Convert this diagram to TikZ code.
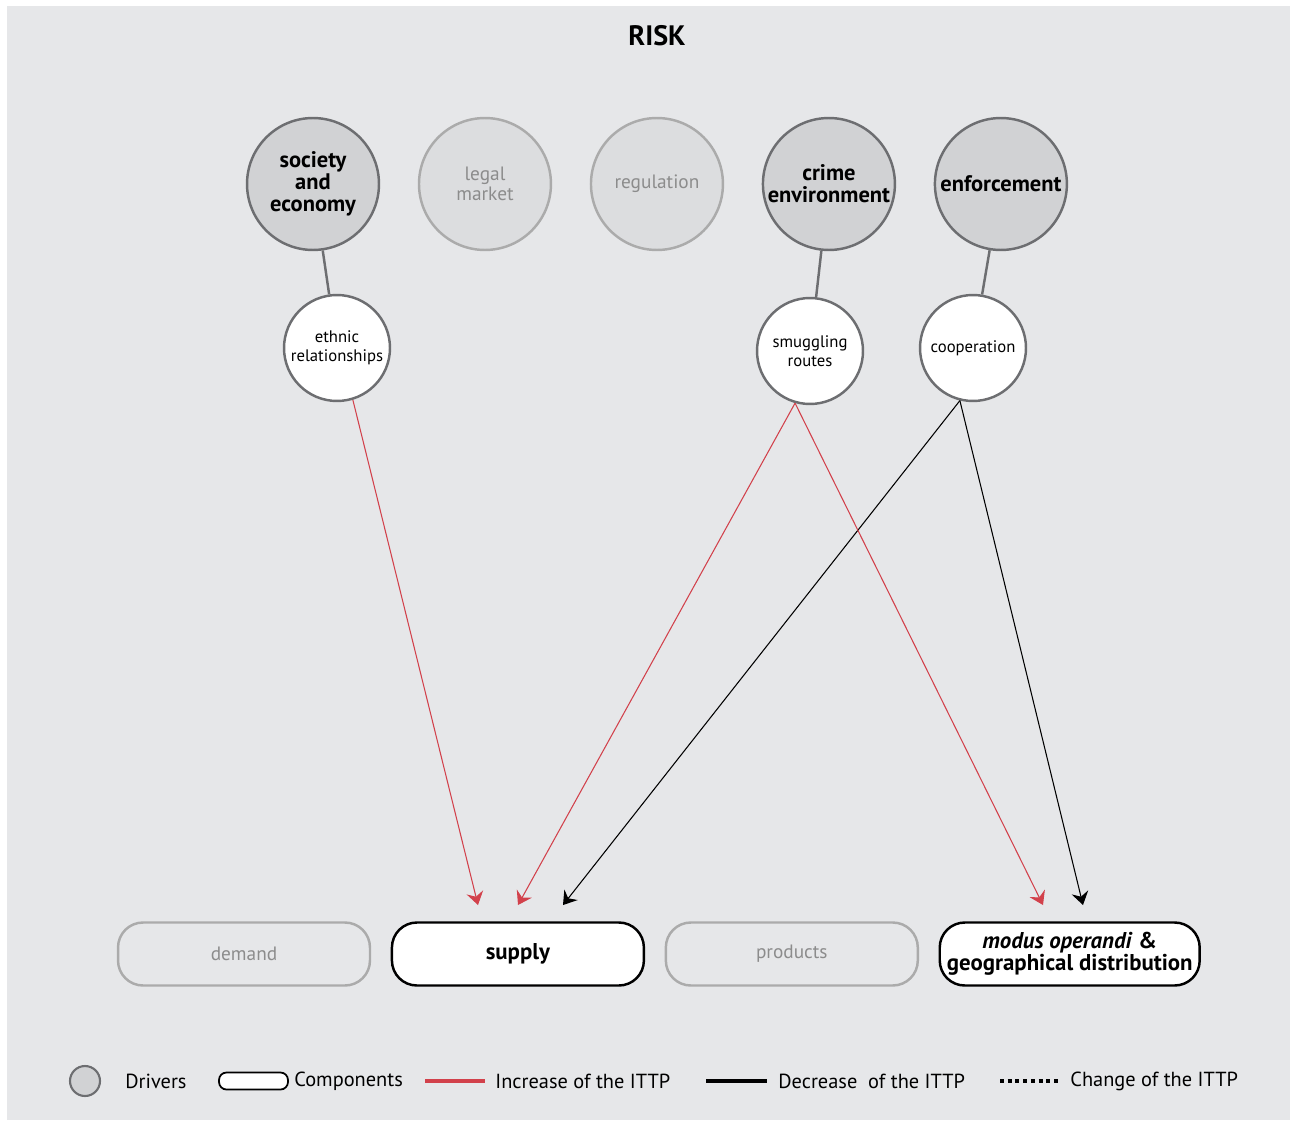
\documentclass[tikz,border=0pt]{standalone}
\usepackage{fontspec}
\setmainfont{PT Sans}
\usetikzlibrary{positioning,arrows.meta}
\definecolor{bggray}{HTML}{E6E7E9}
\definecolor{drvfill}{HTML}{D1D2D4}
\definecolor{drvline}{HTML}{6D6E71}
\definecolor{fadefill}{HTML}{DCDDDF}
\definecolor{fadeline}{HTML}{ABABAB}
\definecolor{fadetext}{HTML}{8C8C8C}
\definecolor{incred}{HTML}{D2414B}

\begin{document}
\begin{tikzpicture}[
  x=0.02cm, y=-0.02cm,
  driver/.style={circle, draw=drvline, line width=1.4pt, fill=drvfill, minimum size=2.64cm, inner sep=0pt, align=center, font=\fontsize{12.8}{12.4}\selectfont\bfseries},
  fadedriver/.style={driver, draw=fadeline, fill=fadefill, text=fadetext, font=\fontsize{11}{11.6}\selectfont},
  factor/.style={circle, draw=drvline, line width=1.4pt, fill=white, minimum size=2.12cm, inner sep=0pt, align=center, font=\fontsize{9.5}{11}\selectfont},
  comp/.style={draw=black, line width=1.4pt, fill=white, rounded corners=0.5cm, minimum width=5.04cm, minimum height=1.26cm, inner sep=0pt, align=center, font=\fontsize{13}{12.6}\selectfont\bfseries},
  fadecomp/.style={comp, draw=fadeline, fill=none, text=fadetext, font=\fontsize{11}{12}\selectfont},
  link/.style={draw=drvline, line width=1.4pt},
  incr/.style={draw=incred, line width=0.6pt, -{Stealth[length=0.26cm, width=0.34cm, inset=0.09cm]}},
  decr/.style={draw=black, line width=0.6pt, -{Stealth[length=0.26cm, width=0.34cm, inset=0.09cm]}},
  legtext/.style={anchor=west, inner sep=0pt, font=\fontsize{11.6}{11}\selectfont},
]
  \useasboundingbox (0,0) rectangle (1291,1122);
  \fill[bggray] (7,6) rectangle (1290,1120);

  \node[font=\fontsize{16}{16}\selectfont\bfseries] (risk) at (657,36) {RISK};

  % Drivers
  \node[driver] (soc) at (313,184) {society\\and\\economy};
  \node[fadedriver, right=0.751cm of soc] (legal) {legal\\market};
  \node[fadedriver, right=0.751cm of legal] (reg) {regulation};
  \node[driver, right=0.751cm of reg] (crime) {crime\\environment};
  \node[driver, right=0.751cm of crime] (enf) {enforcement};

  % Factors
  \node[factor] (eth) at (337,348) {ethnic\\relationships};
  \node[factor] (smug) at (810,351) {smuggling\\routes};
  \node[factor] (coop) at (973,348) {cooperation};

  \draw[link] (soc) -- (eth);
  \draw[link] (crime) -- (smug);
  \draw[link] (enf) -- (coop);

  % Components
  \node[fadecomp] (demand) at (244,954) {demand};
  \node[comp, right=0.39cm of demand] (supply) {supply};
  \node[fadecomp, right=0.39cm of supply] (prod) {products};
  \node[comp, right=0.39cm of prod, minimum width=5.2cm] (modus) {\textit{modus operandi} \&\\geographical distribution};

  % Arrow ends above the components
  \coordinate (supA) at (478,905);
  \coordinate (supB) at (518,905);
  \coordinate (supC) at (563,905);
  \coordinate (modA) at (1043,905);
  \coordinate (modB) at (1083,905);

  \draw[incr] (eth.-73) -- (supA);
  \draw[incr] (smug.-106) -- (supB);
  \draw[decr] (coop.-104) -- (supC);
  \draw[incr] (smug.-106) -- (modA);
  \draw[decr] (coop.-104) -- (modB);

  % Legend
  \node[circle, draw=drvline, line width=1.2pt, fill=drvfill, minimum size=0.6cm, inner sep=0pt] (lgdrv) at (85,1081) {};
  \node[legtext] (lgdrvt) at (125,1081) {Drivers};
  \node[draw=black, line width=1pt, fill=white, rounded corners=0.15cm, minimum width=1.38cm, minimum height=0.34cm, inner sep=0pt] (lgcomp) at (253.5,1081) {};
  \node[legtext] (lgcompt) at (294,1081) {Components};
  \coordinate (lgincA) at (425,1081);
  \coordinate (lgincB) at (485,1081);
  \draw[incred, line width=2.3pt] (lgincA) -- (lgincB);
  \node[legtext] (lginct) at (495,1081) {Increase of the ITTP};
  \coordinate (lgdecA) at (706,1081);
  \coordinate (lgdecB) at (767,1081);
  \draw[black, line width=2.3pt] (lgdecA) -- (lgdecB);
  \node[legtext] (lgdect) at (778,1081) {Decrease\ \ of the ITTP};
  \coordinate (lgchgA) at (1000,1081);
  \coordinate (lgchgB) at (1059,1081);
  \draw[black, line width=2.3pt, dash pattern=on 2.2pt off 2.2pt] (lgchgA) -- (lgchgB);
  \node[legtext] (lgchgt) at (1070,1081) {Change of the ITTP};
\end{tikzpicture}
\end{document}
